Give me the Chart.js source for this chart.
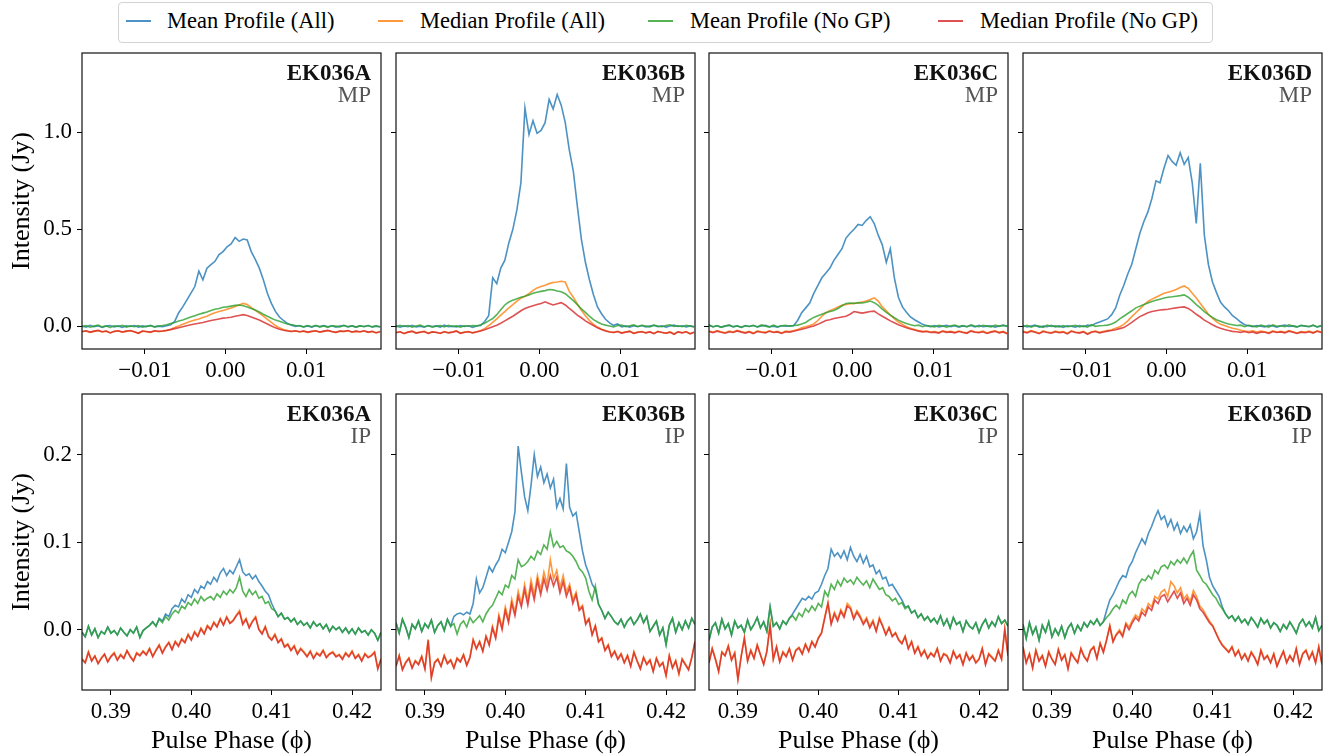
<!DOCTYPE html>
<html>
<head>
<meta charset="utf-8">
<title>EK036 pulse profiles</title>
<script src="https://cdn.jsdelivr.net/npm/chart.js@4.4.1/dist/chart.umd.min.js"></script>
<style>
  html, body { margin: 0; padding: 0; background: #fff; }
  body { width: 1328px; height: 755px; position: relative; overflow: hidden; font-family: "Liberation Serif", "Times New Roman", serif; }
  #legendBox { position: absolute; left: 118px; top: 2px; width: 1095px; height: 41px; border: 1px solid #d3d3d3; border-radius: 4px; box-sizing: border-box; }
  .swatch { position: absolute; top: 20px; width: 25px; height: 2px; }
  .ltext { position: absolute; top: 8px; font-size: 22.5px; line-height: 26px; color: #000; white-space: nowrap; }
  canvas { position: absolute; }
</style>
</head>
<body>
<div id="legendBox"></div>
<script>
// ---- series styling / legend ----
const SERIES_LABELS = ['Mean Profile (All)', 'Median Profile (All)', 'Mean Profile (No GP)', 'Median Profile (No GP)'];
const SERIES_COLORS = ['rgba(31,119,180,0.8)', 'rgba(255,127,14,0.8)', 'rgba(44,160,44,0.8)', 'rgba(214,39,40,0.8)'];

// ---- phase bins (main pulse around 0, interpulse around 0.405) ----
const MP_PHASE_START = -0.0178, MP_PHASE_STEP = 0.0005, MP_BINS = 75;
const IP_PHASE_START = 0.3864, IP_PHASE_STEP = 0.0004, IP_BINS = 94;

const MP_XTICKS = [-0.01, 0, 0.01];
const IP_XTICKS = [0.39, 0.40, 0.41, 0.42];
const MP_YTICKS = [0, 0.5, 1.0];
const IP_YTICKS = [0, 0.1, 0.2];

// ---- profiles, mJy ----
const MP_A_MEAN = [
  2, -4, 5, -2, 3, -6, 1, 4, -3, 2,
  -5, 3, -1, 4, -4, 2, -2, 5, -3, 1,
  -2, 3, 8, 25, 70, 100, 135, 170, 205, 285,
  240, 300, 318, 335, 370, 385, 410, 425, 458, 438,
  450, 445, 385, 345, 300, 240, 170, 118, 77, 48,
  30, 14, 6, 0, 4, -3, 2, -4, 3, -1,
  4, -2, 3, -5, 1, 4, -3, 2, -4, 3,
  -2, 4, -3, 1, -4];
const MP_A_MEDIAN = [
  -28, -24, -31, -26, -22, -29, -25, -33, -27, -24,
  -30, -26, -23, -29, -35, -25, -28, -31, -24, -27,
  -25, -22, -15, -6, 2, 10, 18, 26, 32, 38,
  45, 52, 62, 70, 76, 82, 88, 94, 102, 110,
  118, 112, 96, 82, 68, 52, 36, 20, 4, -8,
  -16, -22, -26, -24, -29, -25, -31, -27, -24, -30,
  -26, -22, -28, -32, -25, -27, -23, -30, -26, -29,
  -24, -31, -27, -34, -28];
const MP_A_MEAN_NOGP = [
  -2, 4, -5, 1, 6, -3, 2, -6, 3, -1,
  5, -4, 2, -2, 4, -5, 1, 3, -3, 2,
  4, 8, 14, 20, 27, 33, 40, 48, 55, 62,
  68, 74, 82, 88, 92, 98, 100, 104, 108, 110,
  106, 100, 92, 84, 74, 62, 52, 42, 32, 26,
  18, 12, 8, 4, 2, -3, 4, -2, 5, -4,
  2, -5, 3, 1, -3, 5, -2, 3, -4, 2,
  -1, 4, -3, 2, -2];
const MP_A_MEDIAN_NOGP = [
  -27, -23, -30, -25, -21, -28, -24, -34, -26, -23,
  -29, -25, -22, -28, -36, -24, -27, -30, -23, -26,
  -24, -21, -17, -12, -7, -2, 3, 8, 12, 16,
  20, 25, 30, 34, 38, 42, 44, 47, 52, 56,
  60, 56, 48, 40, 32, 22, 12, 2, -8, -15,
  -20, -24, -27, -23, -28, -24, -30, -26, -23, -29,
  -25, -21, -27, -31, -24, -26, -22, -29, -25, -28,
  -23, -30, -26, -33, -27];

const MP_B_MEAN = [
  3, -4, 2, -2, 5, -3, 1, -5, 4, -1,
  2, -4, 6, -2, 1, -3, 4, -1, 3, -5,
  2, 4, 25, 55, 250, 220, 300, 340, 430, 500,
  600, 740, 1125, 990, 1060, 995, 1010, 1050, 1170, 1120,
  1195, 1140, 1050, 910, 800, 620, 450, 330, 240, 163,
  100, 65, 36, 18, 5, 12, -3, 2, -4, 3,
  -2, 4, -3, 1, 5, -2, 3, -4, 2, 6,
  -1, 3, -3, 2, -2];
const MP_B_MEDIAN = [
  -32, -27, -38, -29, -25, -34, -30, -26, -36, -28,
  -31, -37, -27, -33, -29, -24, -35, -30, -27, -33,
  -28, -22, -12, 4, 20, 38, 58, 76, 95, 112,
  130, 145, 155, 168, 185, 198, 205, 212, 220, 226,
  228, 232, 228, 180, 150, 115, 82, 55, 30, 10,
  -4, -15, -22, -28, -31, -26, -34, -29, -25, -36,
  -30, -27, -33, -28, -37, -26, -31, -35, -29, -40,
  -28, -33, -27, -38, -30];
const MP_B_MEAN_NOGP = [
  -3, 5, -1, 4, -4, 2, 6, -2, 3, -5,
  1, 4, -3, 5, -1, 2, -4, 3, 0, 4,
  2, 8, 16, 28, 40, 60, 85, 110, 125, 135,
  142, 150, 155, 162, 170, 176, 180, 184, 190, 188,
  182, 178, 168, 150, 132, 112, 90, 72, 52, 34,
  22, 12, 6, 2, -3, 4, 6, -2, 3, 7,
  -1, 5, 2, -3, 6, 1, -2, 4, 8, 0,
  3, -2, 5, 1, -3];
const MP_B_MEDIAN_NOGP = [
  -33, -28, -37, -30, -26, -35, -31, -27, -37, -29,
  -32, -36, -28, -34, -30, -25, -36, -31, -28, -34,
  -29, -24, -18, -10, -2, 6, 16, 28, 40, 52,
  66, 80, 92, 100, 106, 112, 118, 126, 118, 110,
  116, 122, 110, 92, 76, 58, 44, 28, 16, 4,
  -8, -17, -24, -29, -32, -27, -35, -30, -26, -37,
  -31, -28, -34, -29, -38, -27, -32, -36, -30, -41,
  -29, -34, -28, -39, -31];

const MP_C_MEAN = [
  5, -2, 3, -4, 1, 6, -3, 2, -5, 3,
  -1, 4, -3, 2, 5, -2, 1, -4, 3, 0,
  2, 3, 30, 70, 95, 120, 170, 210, 250, 275,
  300, 340, 370, 400, 455, 480, 500, 525, 520, 545,
  565, 530, 470, 420, 330, 400, 250, 150, 100, 72,
  48, 34, 22, 10, 3, -2, 4, -3, 1, 5,
  -2, 3, -4, 2, -1, 4, -3, 5, -2, 1,
  3, -4, 2, 6, -1];
const MP_C_MEDIAN = [
  -24, -30, -22, -28, -33, -25, -29, -21, -27, -32,
  -26, -35, -24, -28, -31, -23, -29, -26, -34, -25,
  -27, -22, -16, -8, -2, 4, 12, 30, 52, 70,
  80, 90, 100, 108, 112, 116, 118, 120, 125, 130,
  138, 146, 130, 100, 80, 58, 40, 22, 10, -2,
  -10, -16, -22, -26, -24, -29, -27, -32, -23, -28,
  -26, -31, -24, -29, -33, -22, -28, -30, -25, -34,
  -27, -23, -31, -26, -36];
const MP_C_MEAN_NOGP = [
  8, -3, 4, -5, 2, 6, -2, 3, -6, 4,
  -1, 5, -3, 7, 1, -4, 6, -2, 3, 5,
  0, 4, 6, 12, 20, 34, 46, 54, 62, 70,
  76, 82, 92, 106, 118, 120, 118, 122, 120, 124,
  130, 122, 108, 88, 72, 58, 44, 32, 22, 14,
  8, 3, 6, -2, 4, 1, -3, 5, 2, -4,
  3, 6, -1, 4, -3, 7, 2, -2, 5, 1,
  -3, 6, 0, 4, 2];
const MP_C_MEDIAN_NOGP = [
  -27, -33, -25, -31, -36, -28, -32, -24, -30, -35,
  -29, -38, -27, -31, -34, -26, -32, -29, -37, -28,
  -30, -25, -20, -15, -10, -4, 2, 10, 20, 30,
  34, 40, 44, 48, 52, 62, 76, 72, 68, 72,
  76, 78, 64, 52, 40, 28, 18, 8, 0, -8,
  -14, -19, -25, -29, -27, -32, -30, -35, -26, -31,
  -29, -34, -27, -32, -36, -25, -31, -33, -28, -37,
  -30, -26, -34, -29, -39];

const MP_D_MEAN = [
  4, -3, 2, 6, -4, 1, -2, 5, -3, 2,
  -5, 3, 0, -4, 4, -2, 6, 3, 15, 22,
  30, 38, 60, 95, 160, 210, 270, 320, 400, 480,
  540, 590, 660, 750, 740, 816, 880, 850, 830, 895,
  835, 870, 740, 530, 840, 470, 320, 230, 175, 125,
  100, 80, 55, 40, 22, 8, 3, -2, 4, 1,
  -3, 5, 2, -4, 3, 6, -1, 2, -3, 4,
  1, -2, 5, -3, 2];
const MP_D_MEDIAN = [
  -26, -31, -22, -28, -35, -24, -29, -33, -25, -30,
  -27, -36, -23, -29, -32, -26, -38, -28, -24, -31,
  -26, -22, -18, -10, -2, 10, 28, 50, 70, 90,
  110, 128, 140, 150, 160, 170, 176, 182, 190, 200,
  208, 196, 170, 146, 118, 90, 62, 42, 24, 10,
  4, -4, -10, -14, -20, -24, -27, -23, -30, -25,
  -28, -33, -24, -29, -26, -31, -22, -28, -34, -27,
  -30, -25, -32, -23, -29];
const MP_D_MEAN_NOGP = [
  -2, 5, -4, 3, 1, -5, 6, -1, 2, -3,
  4, -2, 1, 5, -3, 2, -4, 8, 0, 3,
  4, 6, 12, 22, 38, 52, 66, 80, 95, 104,
  112, 120, 128, 134, 140, 146, 150, 152, 155, 158,
  162, 150, 132, 112, 95, 76, 60, 46, 34, 26,
  18, 12, 8, 4, 6, -2, 5, 1, -3, 6,
  2, -4, 7, 0, 3, -2, 8, 1, -3, 5,
  2, -1, 6, -3, 4];
const MP_D_MEDIAN_NOGP = [
  -29, -34, -25, -31, -38, -27, -32, -36, -28, -33,
  -30, -39, -26, -32, -35, -29, -41, -31, -27, -34,
  -29, -25, -22, -18, -12, -6, 6, 20, 36, 50,
  60, 70, 76, 80, 84, 86, 88, 92, 95, 98,
  100, 92, 78, 62, 48, 32, 20, 8, -2, -10,
  -17, -22, -26, -28, -31, -27, -33, -29, -36, -30,
  -31, -36, -27, -32, -29, -34, -25, -31, -37, -30,
  -33, -28, -35, -26, -32];

const IP_A_MEAN = [
  -3, -8, 4, -6, 1, -9, -2, -5, 3, -4,
  -1, -6, 2, -3, -7, 0, -4, 3, -9, -1,
  2, 5, 9, 4, 13, 10, 18, 15, 24, 28,
  26, 35, 31, 40, 37, 46, 42, 50, 47, 55,
  52, 60, 55, 65, 70, 62, 68, 64, 72, 80,
  66, 62, 64, 58, 62, 55, 50, 44, 40, 30,
  22, 15, 19, 12, 14, 9, 13, 6, 10, 5,
  8, 2, 9, 4, 7, 1, 6, -2, 4, 0,
  3, -3, 2, -4, 1, -5, 2, -3, -1, -6,
  0, -4, -12, -3];
const IP_A_MEDIAN = [
  -33, -37, -25, -35, -30, -38, -32, -28, -36, -30,
  -26, -34, -28, -32, -24, -30, -35, -26, -29, -24,
  -28, -21, -30, -23, -17, -26, -19, -14, -22, -13,
  -18, -10, -14, -5, -11, -2, -7, 2, -4, 5,
  1, 9, 4, 13, 6, 15, 8, 11, 17, 22,
  7, 13, 3, 10, 15, 1, -4, 4, -7, -11,
  -5, -14, -10, -19, -16, -23, -18, -27, -21, -25,
  -30, -24, -32, -26, -29, -23, -31, -27, -25, -30,
  -28, -33, -26, -30, -24, -32, -28, -35, -27, -31,
  -29, -25, -44, -33];
const IP_A_MEAN_NOGP = [
  -3, -8, 4, -6, 1, -9, -2, -5, 3, -4,
  -1, -6, 2, -3, -7, 0, -4, 3, -9, -1,
  2, 5, 9, 4, 12, 8, 15, 11, 18, 22,
  19, 27, 24, 31, 28, 35, 30, 38, 33, 36,
  38, 34, 41, 37, 44, 40, 46, 42, 48, 60,
  44, 38, 46, 40, 44, 36, 38, 30, 32, 24,
  22, 15, 19, 12, 14, 9, 13, 6, 10, 5,
  8, 2, 9, 4, 7, 1, 6, -2, 4, 0,
  3, -3, 2, -4, 1, -5, 2, -3, -1, -6,
  0, -4, -12, -3];
const IP_A_MEDIAN_NOGP = [
  -34, -38, -26, -36, -30, -39, -33, -28, -37, -31,
  -27, -35, -29, -33, -24, -31, -36, -27, -30, -25,
  -29, -22, -31, -24, -18, -27, -20, -15, -23, -14,
  -19, -11, -15, -6, -12, -3, -8, 1, -5, 4,
  0, 8, 3, 12, 5, 14, 7, 10, 16, 20,
  6, 12, 2, 9, 14, 0, -5, 3, -8, -12,
  -6, -15, -11, -20, -17, -24, -19, -28, -22, -26,
  -31, -25, -33, -27, -30, -24, -32, -28, -26, -31,
  -29, -34, -27, -31, -25, -33, -29, -36, -28, -32,
  -30, -26, -45, -34];

const IP_B_MEAN = [
  8, -4, 12, 3, -9, 6, 1, 10, -2, 7,
  2, 11, -3, 5, 9, -1, 12, 4, 15, 18,
  19, 17, 20, 18, 30, 58, 42, 48, 60, 72,
  66, 74, 80, 92, 88, 100, 112, 135, 210, 180,
  152, 136, 165, 200, 175, 186, 168, 178, 162, 172,
  140, 150, 138, 190, 140, 130, 134, 112, 90, 74,
  64, 52, 46, 29, 22, 13, 20, 15, 9, 6,
  12, 3, 10, 14, 6, 11, 18, 8, 15, -2,
  4, 10, -6, 2, -17, 5, 13, -3, 8, 0,
  10, 2, 13, 6];
const IP_B_MEDIAN = [
  -41, -29, -45, -37, -32, -43, -35, -39, -30, -44,
  -11, -54, -37, -33, -41, -29, -38, -34, -43, -32,
  -36, -28, -40, -31, -11, -21, -13, -24, -7, -16,
  4, -8, 17, 3, 26, 12, 35, 20, 44, 30,
  52, 33, 57, 40, 62, 46, 66, 52, 80, 58,
  68, 48, 62, 43, 52, 34, 43, 24, 28, 8,
  13, -5, 5, -13, -9, -23, -17, -30, -24, -33,
  -27, -37, -29, -41, -25, -35, -44, -31, -39, -34,
  -47, -32, -41, -37, -53, -29, -43, -35, -51, -33,
  -39, -45, -31, -13];
const IP_B_MEAN_NOGP = [
  8, -4, 12, 3, -9, 6, 1, 10, -2, 7,
  2, 11, -3, 5, 9, -1, 12, 4, 7, -5,
  6, 10, 3, 14, 8, 12, 16, 9, 18, 24,
  28, 36, 44, 40, 51, 48, 62, 58, 80, 72,
  74, 78, 84, 80, 90, 86, 97, 92, 112, 95,
  101, 94, 96, 90, 88, 84, 78, 70, 66, 59,
  44, 34, 50, 29, 22, 13, 20, 15, 9, 6,
  12, 3, 10, 14, 6, 11, 18, 8, 15, -2,
  4, 10, -6, 2, -17, 5, 13, -3, 8, 0,
  10, 2, 13, 6];
const IP_B_MEDIAN_NOGP = [
  -42, -30, -46, -38, -33, -44, -36, -40, -31, -45,
  -12, -55, -38, -34, -42, -30, -39, -35, -44, -33,
  -37, -29, -41, -32, -12, -22, -14, -25, -8, -18,
  2, -10, 14, 0, 22, 8, 30, 16, 38, 26,
  46, 28, 50, 34, 56, 40, 58, 45, 62, 50,
  60, 42, 55, 38, 48, 30, 40, 22, 26, 6,
  12, -6, 4, -14, -10, -24, -18, -31, -25, -34,
  -28, -38, -30, -42, -26, -36, -45, -32, -40, -35,
  -48, -33, -42, -38, -52, -30, -44, -36, -50, -34,
  -40, -46, -32, -14];

const IP_C_MEAN = [
  -12, 3, 8, -4, 12, 1, 7, -6, 10, 2,
  5, -3, 11, 0, 6, 14, 2, 9, -2, 26,
  4, 8, 1, 10, 6, 13, 18, 24, 30, 36,
  34, 38, 35, 42, 44, 52, 62, 70, 92, 84,
  88, 82, 90, 80, 94, 84, 78, 86, 76, 84,
  72, 74, 64, 68, 58, 60, 50, 52, 46, 40,
  34, 26, 27, 19, 22, 14, 18, 11, 15, 9,
  13, 7, 16, 5, 12, 2, 14, 6, 9, -2,
  10, 4, 1, 8, -3, 6, 12, 2, 9, 4,
  15, 7, 11, 4];
const IP_C_MEDIAN = [
  -37, -21, -33, -47, -25, -29, -18, -34, -26, -56,
  -30, -9, -35, -23, -32, -17, -28, -39, -24, 6,
  -33, -19, -36, -25, -30, -21, -34, -23, -20, -27,
  -16, -24, -13, -19, -9, -3, 15, 31, 8, 20,
  12, 23, 16, 30, 26, 14, 22, 16, 8, 14,
  4, 11, -1, 14, 5, -5, 3, -7, -3, -11,
  -15, -7, -21, -13, -26, -19, -29, -23, -32, -26,
  -30, -21, -35, -27, -29, -37, -24, -32, -28, -39,
  -26, -34, -29, -37, -33, -21, -39, -27, -31, -35,
  -23, -33, 1, -29];
const IP_C_MEAN_NOGP = [
  -12, 3, 8, -4, 12, 1, 7, -6, 10, 2,
  5, -3, 11, 0, 6, 14, 2, 9, -2, 26,
  4, 8, 1, 10, 6, 13, 16, 11, 19, 15,
  24, 20, 27, 22, 30, 26, 44, 38, 52, 46,
  56, 50, 59, 54, 57, 52, 60, 55, 51, 56,
  48, 58, 52, 46, 48, 40, 38, 33, 36, 29,
  31, 24, 27, 19, 22, 14, 18, 11, 15, 9,
  13, 7, 16, 5, 12, 2, 14, 6, 9, -2,
  10, 4, 1, 8, -3, 6, 12, 2, 9, 4,
  15, 7, 11, 4];
const IP_C_MEDIAN_NOGP = [
  -38, -22, -34, -48, -26, -30, -19, -35, -27, -57,
  -31, -10, -36, -24, -33, -18, -29, -40, -25, 5,
  -34, -20, -37, -26, -31, -22, -35, -24, -21, -28,
  -17, -25, -14, -20, -10, -4, 13, 30, 6, 18,
  10, 21, 14, 27, 24, 12, 20, 14, 6, 12,
  2, 9, -2, 12, 4, -6, 2, -8, -4, -12,
  -16, -8, -22, -14, -27, -20, -30, -24, -33, -27,
  -31, -22, -36, -28, -30, -38, -25, -33, -29, -40,
  -27, -35, -30, -38, -34, -22, -40, -28, -32, -36,
  -24, -34, 0, -30];

const IP_D_MEAN = [
  6, -10, 8, -5, 3, -12, 5, -3, 9, -8,
  1, -6, 4, -9, 2, 7, -4, 5, -1, 8,
  3, 10, 6, 12, 5, 9, 22, 34, 40, 48,
  56, 62, 60, 72, 78, 88, 96, 104, 98, 110,
  118, 128, 136, 126, 130, 118, 126, 114, 122, 110,
  118, 112, 120, 104, 112, 132, 96, 80, 60, 50,
  44, 38, 26, 18, 13, 16, 10, 15, 8, 12,
  6, 14, 9, 3, 13, 7, 11, 2, 8, 5,
  -2, 6, 1, 9, 3, -4, 7, 12, 4, 9,
  2, 14, -1, 5];
const IP_D_MEDIAN = [
  -19, -37, -27, -43, -23, -35, -29, -41, -25, -33,
  -39, -22, -34, -28, -44, -26, -32, -37, -21, -30,
  -35, -23, -19, -32, -15, -25, -11, 5, -13, -5,
  0, -6, 8, 3, 11, 17, 13, 24, 20, 30,
  26, 38, 35, 43, 46, 38, 55, 50, 42, 48,
  35, 40, 32, 45, 38, 27, 23, 16, 10, 5,
  -3, -11, -17, -21, -25, -19, -29, -23, -33, -27,
  -35, -25, -31, -39, -23, -33, -29, -37, -27, -41,
  -32, -24, -37, -29, -35, -21, -39, -27, -23, -33,
  -25, -37, -19, -39];
const IP_D_MEAN_NOGP = [
  6, -10, 8, -5, 3, -12, 5, -3, 9, -8,
  1, -6, 4, -9, 2, 7, -4, 5, -1, 8,
  3, 10, 6, 12, 5, 9, 14, 18, 24, 28,
  24, 34, 30, 40, 44, 38, 52, 58, 56, 62,
  58, 68, 64, 72, 74, 70, 78, 74, 80, 76,
  82, 76, 84, 90, 68, 62, 55, 52, 46, 40,
  36, 29, 24, 18, 13, 16, 10, 15, 8, 12,
  6, 14, 9, 3, 13, 7, 11, 2, 8, 5,
  -2, 6, 1, 9, 3, -4, 7, 12, 4, 9,
  2, 14, -1, 5];
const IP_D_MEDIAN_NOGP = [
  -20, -38, -28, -44, -24, -36, -30, -42, -26, -34,
  -40, -23, -35, -29, -45, -27, -33, -38, -22, -31,
  -36, -24, -20, -33, -16, -26, -12, 4, -14, -6,
  -2, -8, 6, 0, 8, 14, 10, 20, 16, 26,
  22, 34, 30, 38, 40, 32, 38, 44, 36, 42,
  30, 36, 28, 40, 34, 24, 20, 14, 8, 4,
  -4, -12, -18, -22, -26, -20, -30, -24, -34, -28,
  -36, -26, -32, -40, -24, -34, -30, -38, -28, -42,
  -33, -25, -38, -30, -36, -22, -40, -28, -24, -34,
  -26, -38, -20, -40];

const STATIONS = ['EK036A', 'EK036B', 'EK036C', 'EK036D'];
const MP_SERIES = [
  [MP_A_MEAN, MP_A_MEDIAN, MP_A_MEAN_NOGP, MP_A_MEDIAN_NOGP],
  [MP_B_MEAN, MP_B_MEDIAN, MP_B_MEAN_NOGP, MP_B_MEDIAN_NOGP],
  [MP_C_MEAN, MP_C_MEDIAN, MP_C_MEAN_NOGP, MP_C_MEDIAN_NOGP],
  [MP_D_MEAN, MP_D_MEDIAN, MP_D_MEAN_NOGP, MP_D_MEDIAN_NOGP]];
const IP_SERIES = [
  [IP_A_MEAN, IP_A_MEDIAN, IP_A_MEAN_NOGP, IP_A_MEDIAN_NOGP],
  [IP_B_MEAN, IP_B_MEDIAN, IP_B_MEAN_NOGP, IP_B_MEDIAN_NOGP],
  [IP_C_MEAN, IP_C_MEDIAN, IP_C_MEAN_NOGP, IP_C_MEDIAN_NOGP],
  [IP_D_MEAN, IP_D_MEDIAN, IP_D_MEAN_NOGP, IP_D_MEDIAN_NOGP]];

// ---- figure geometry ----
const COL_LEFT = [82, 396, 709, 1023];
const ROW_TOP = [53, 394];
const PANEL_W = 299, PANEL_H = 296;
const PAD_L = 82, PAD_R = 4, PAD_T = 4;
const PAD_B = [40, 67];
const FONT = 'Liberation Serif';

const ROWS = [
  { part: 'MP', series: MP_SERIES, start: MP_PHASE_START, step: MP_PHASE_STEP, bins: MP_BINS,
    xmin: -0.0178, xmax: 0.0193, ymin: -0.117, ymax: 1.409, xticks: MP_XTICKS, yticks: MP_YTICKS, xtitle: false },
  { part: 'IP', series: IP_SERIES, start: IP_PHASE_START, step: IP_PHASE_STEP, bins: IP_BINS,
    xmin: 0.3864, xmax: 0.4236, ymin: -0.0689, ymax: 0.2694, xticks: IP_XTICKS, yticks: IP_YTICKS, xtitle: true }
];

// legend
const LEGEND_SWATCH_X = [126, 378, 648, 938];
const LEGEND_TEXT_X = [167, 420, 690, 980];
SERIES_LABELS.forEach((lab, k) => {
  const sw = document.createElement('div');
  sw.className = 'swatch';
  sw.style.left = LEGEND_SWATCH_X[k] + 'px';
  sw.style.background = SERIES_COLORS[k];
  document.body.appendChild(sw);
  const tx = document.createElement('div');
  tx.className = 'ltext';
  tx.style.left = LEGEND_TEXT_X[k] + 'px';
  tx.textContent = lab;
  document.body.appendChild(tx);
});

// box around each axes
const framePlugin = {
  id: 'frame',
  afterDraw(chart) {
    const { ctx, chartArea: a } = chart;
    ctx.save();
    ctx.strokeStyle = '#1a1a1a';
    ctx.lineWidth = 1.25;
    ctx.strokeRect(a.left, a.top, a.right - a.left, a.bottom - a.top);
    ctx.restore();
  }
};

// station name + pulse component in the upper right corner
const panelLabel = {
  id: 'panelLabel',
  afterDatasetsDraw(chart, args, opts) {
    const { ctx, chartArea: a } = chart;
    ctx.save();
    ctx.textAlign = 'right';
    ctx.textBaseline = 'alphabetic';
    ctx.fillStyle = '#111';
    ctx.font = `bold 23px "${FONT}"`;
    ctx.fillText(opts.name, a.right - 10, a.top + 27);
    ctx.fillStyle = '#555';
    ctx.font = `23px "${FONT}"`;
    ctx.fillText(opts.part, a.right - 10, a.top + 48.5);
    ctx.restore();
  }
};

const fixSize = (size) => (scale) => {
  if (scale.isHorizontal()) scale.height = size; else scale.width = size;
  scale.paddingTop = scale.paddingBottom = scale.paddingLeft = scale.paddingRight = 0;
};

const fmtPhase = (v) => (v < 0 ? '\u2212' : '') + Math.abs(v).toFixed(2);

ROWS.forEach((row, r) => {
  const phases = [];
  for (let j = 0; j < row.bins; j++) phases.push(row.start + j * row.step);

  STATIONS.forEach((name, c) => {
    const canvas = document.createElement('canvas');
    const w = PAD_L + PANEL_W + PAD_R;
    const h = PAD_T + PANEL_H + PAD_B[r];
    canvas.width = w;
    canvas.height = h;
    canvas.style.left = (COL_LEFT[c] - PAD_L) + 'px';
    canvas.style.top = (ROW_TOP[r] - PAD_T) + 'px';
    canvas.style.width = w + 'px';
    canvas.style.height = h + 'px';
    document.body.appendChild(canvas);

    const datasets = row.series[c].map((vals, k) => ({
      label: SERIES_LABELS[k],
      data: vals.map((v, j) => ({ x: phases[j], y: v / 1000 })),
      borderColor: SERIES_COLORS[k],
      borderWidth: 1.6,
      pointRadius: 0,
      tension: 0,
      fill: false,
      order: 3 - k
    }));

    new Chart(canvas, {
      type: 'line',
      data: { datasets },
      options: {
        animation: false,
        responsive: false,
        devicePixelRatio: 1,
        events: [],
        layout: { padding: { left: 0, right: PAD_R, top: PAD_T, bottom: 0 } },
        plugins: {
          legend: { display: false },
          tooltip: { enabled: false },
          panelLabel: { name, part: row.part }
        },
        scales: {
          x: {
            type: 'linear',
            min: row.xmin,
            max: row.xmax,
            afterBuildTicks: (s) => { s.ticks = row.xticks.map(v => ({ value: v })); },
            afterFit: fixSize(PAD_B[r]),
            border: { display: false },
            grid: { drawOnChartArea: false, drawTicks: true, tickLength: 5, tickColor: '#000', lineWidth: 1 },
            ticks: { color: '#000', padding: 3, maxRotation: 0, font: { family: FONT, size: 23 }, callback: (v) => fmtPhase(v) },
            title: { display: row.xtitle, text: 'Pulse Phase (\u03d5)', color: '#000', padding: { top: 0, bottom: 0 }, font: { family: FONT, size: 26 } }
          },
          y: {
            type: 'linear',
            min: row.ymin,
            max: row.ymax,
            afterBuildTicks: (s) => { s.ticks = row.yticks.map(v => ({ value: v })); },
            afterFit: fixSize(PAD_L),
            border: { display: false },
            grid: { drawOnChartArea: false, drawTicks: true, tickLength: 5, tickColor: '#000', lineWidth: 1 },
            ticks: { display: c === 0, color: '#000', padding: 5, font: { family: FONT, size: 23 }, callback: (v) => v.toFixed(1) },
            title: { display: c === 0, text: 'Intensity (Jy)', color: '#000', padding: { top: 7, bottom: 7 }, font: { family: FONT, size: 26 } }
          }
        }
      },
      plugins: [framePlugin, panelLabel]
    });
  });
});
</script>
</body>
</html>
